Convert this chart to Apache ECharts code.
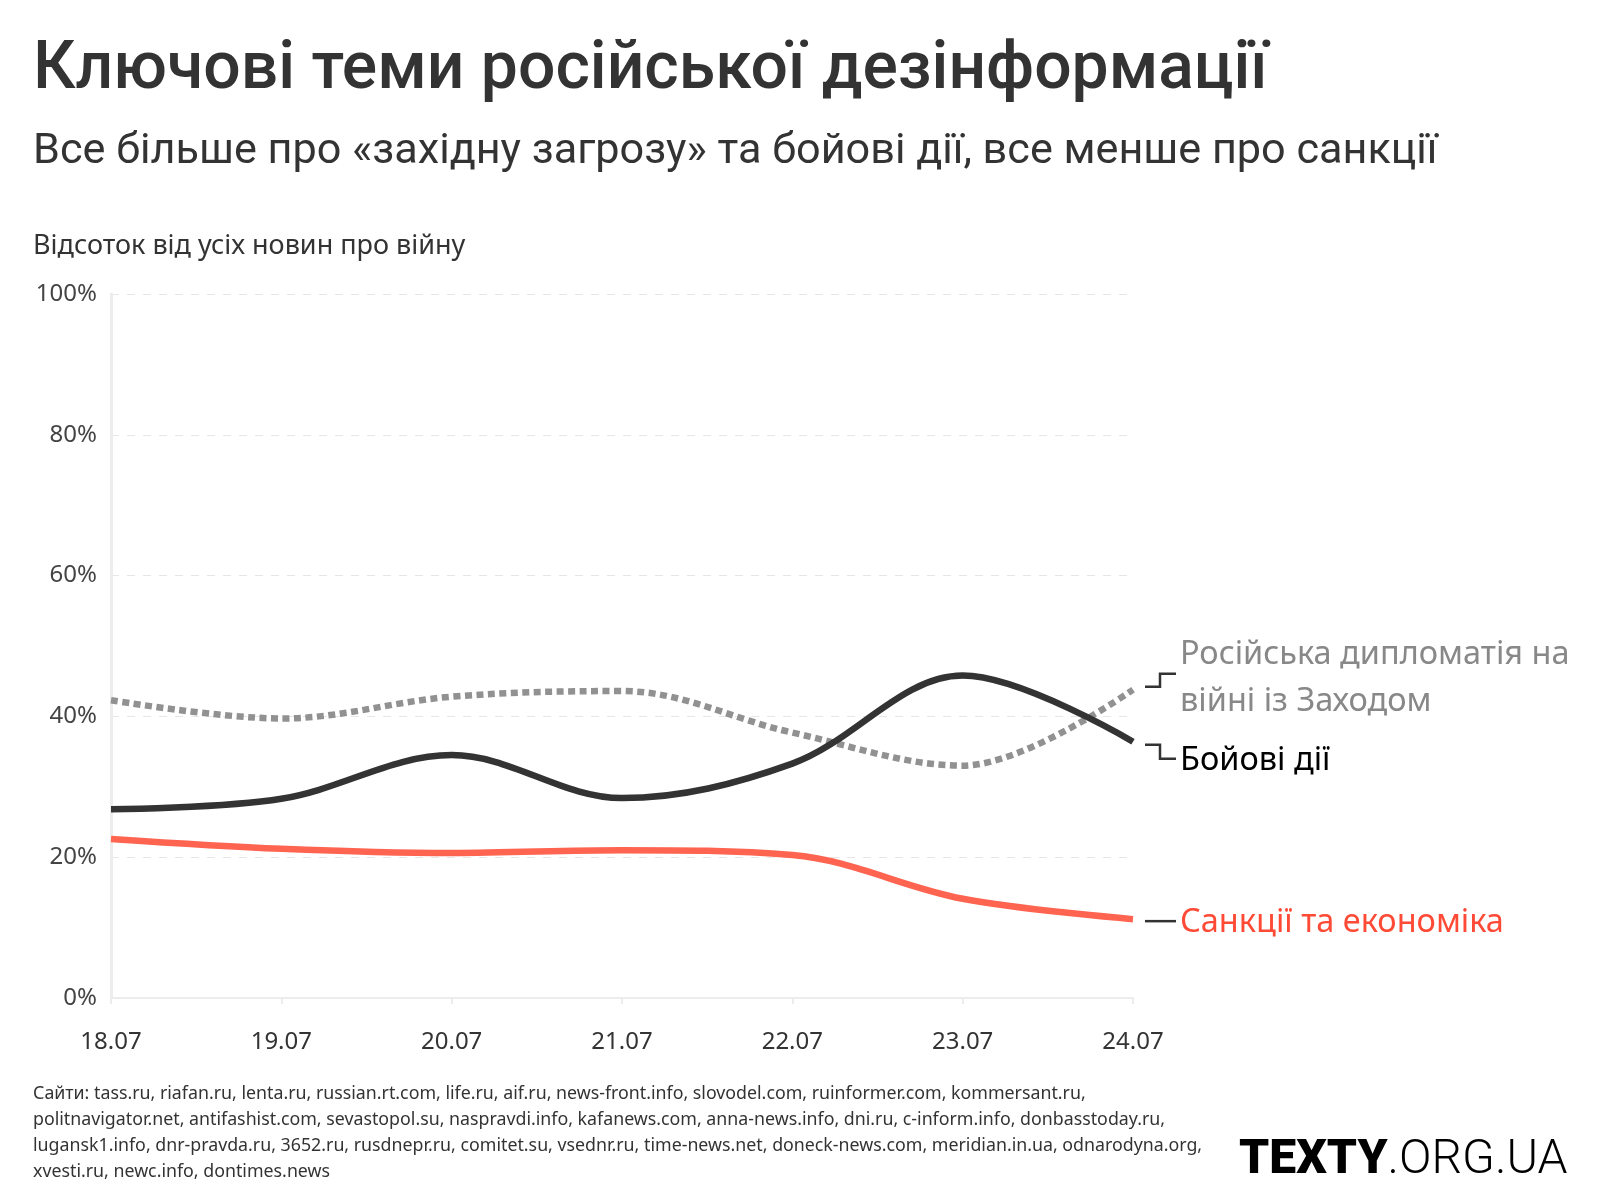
<!DOCTYPE html>
<html><head><meta charset="utf-8">
<script src="https://cdn.jsdelivr.net/npm/echarts@6/dist/echarts.min.js"></script>
<style>html,body{margin:0;padding:0;background:#fff}#c{width:1600px;height:1200px}</style>
</head><body><div id="c"></div>
<script>
const categories = ['18.07','19.07','20.07','21.07','22.07','23.07','24.07'];
const diplomacy = [42.3, 39.7, 42.8, 43.6, 37.7, 33.0, 43.8];
const combat = [26.8, 28.3, 34.5, 28.4, 33.3, 45.8, 36.4];
const sanctions = [22.6, 21.2, 20.6, 21.0, 20.3, 14.1, 11.2];
const yTicks = [0, 20, 40, 60, 80, 100];
const seriesNames = ['Російська дипломатія на\nвійні із Заходом', 'Бойові дії', 'Санкції та економіка'];
const footerLines = [
 'Сайти: tass.ru, riafan.ru, lenta.ru, russian.rt.com, life.ru, aif.ru, news-front.info, slovodel.com, ruinformer.com, kommersant.ru,',
 'politnavigator.net, antifashist.com, sevastopol.su, naspravdi.info, kafanews.com, anna-news.info, dni.ru, c-inform.info, donbasstoday.ru,',
 'lugansk1.info, dnr-pravda.ru, 3652.ru, rusdnepr.ru, comitet.su, vsednr.ru, time-news.net, doneck-news.com, meridian.in.ua, odnarodyna.org,',
 'xvesti.ru, newc.info, dontimes.news'
];

const chart = echarts.init(document.getElementById('c'));
const F = '"Noto Sans", sans-serif';
const SM = 0.35;
const option = {
  backgroundColor: '#fff',
  animation: false,
  grid: {left: 111, right: 467, top: 294, bottom: 202},
  xAxis: {
    type: 'category', data: categories, boundaryGap: false,
    axisLine: {lineStyle: {color: '#ececec', width: 2}},
    axisTick: {show: true, length: 6, lineStyle: {color: '#ececec', width: 2}},
    axisLabel: {color: '#333', fontSize: 24, fontFamily: F, margin: 32}
  },
  yAxis: {
    type: 'value', min: yTicks[0], max: yTicks[yTicks.length - 1], interval: 20,
    axisLine: {show: true, lineStyle: {color: '#ececec', width: 3}},
    axisTick: {show: false},
    axisLabel: {color: '#444', fontSize: 24, fontFamily: F, margin: 14, formatter: v => v + '%'},
    splitLine: {lineStyle: {color: '#e6e6e6', type: [8, 8], width: 1}}
  },
  series: [
    {name: 'dipl', type: 'line', data: diplomacy, smooth: SM, symbol: 'none',
     lineStyle: {color: '#919191', width: 6.5, type: [7, 4.5]}, z: 2},
    {name: 'combat', type: 'line', data: combat, smooth: SM, symbol: 'none',
     lineStyle: {color: '#333333', width: 6.5}, z: 3},
    {name: 'sanc', type: 'line', data: sanctions, smooth: SM, symbol: 'none',
     lineStyle: {color: '#ff6450', width: 6.5}, z: 3}
  ]
};
chart.setOption(option);

const last = categories.length - 1;
const pD = chart.convertToPixel({seriesIndex: 0}, [last, diplomacy[last]]);
const pC = chart.convertToPixel({seriesIndex: 1}, [last, combat[last]]);
const pS = chart.convertToPixel({seriesIndex: 2}, [last, sanctions[last]]);
const x0 = pD[0] + 12, xm = x0 + 15, x1 = x0 + 31, tx = x0 + 35;
const dY0 = pD[1] - 3, dY1 = dY0 - 13;
const cY0 = pC[1] + 3, cY1 = cY0 + 14;
const sY = pS[1] + 2;
const connStyle = {stroke: '#333', lineWidth: 2.5, fill: null};

const graphics = [
  {type: 'text', x: 33, y: 71, style: {text: 'Ключові теми російської дезінформації', font: '500 66px Roboto, sans-serif', fill: '#333', verticalAlign: 'middle'}},
  {type: 'text', x: 33, y: 152, style: {text: 'Все більше про «західну загрозу» та бойові дії, все менше про санкції', font: '400 43.2px Roboto, sans-serif', fill: '#333', verticalAlign: 'middle'}},
  {type: 'text', x: 33, y: 246, style: {text: 'Відсоток від усіх новин про війну', font: '400 27px ' + F, fill: '#333', verticalAlign: 'middle'}},
  {type: 'polyline', shape: {points: [[x0, dY0], [xm, dY0], [xm, dY1], [x1, dY1]]}, style: connStyle},
  {type: 'polyline', shape: {points: [[x0, cY0], [xm, cY0], [xm, cY1], [x1, cY1]]}, style: connStyle},
  {type: 'polyline', shape: {points: [[x0, sY], [x1, sY]]}, style: connStyle},
  {type: 'text', x: tx, y: dY1 + 5, style: {text: seriesNames[0], font: '400 32.5px ' + F, fill: '#888', verticalAlign: 'middle', lineHeight: 47}},
  {type: 'text', x: tx, y: cY1 + 2, style: {text: seriesNames[1], font: '400 32.5px ' + F, fill: '#000', verticalAlign: 'middle'}},
  {type: 'text', x: tx, y: sY + 2, style: {text: seriesNames[2], font: '400 32.5px ' + F, fill: '#ff4a36', verticalAlign: 'middle'}}
];
footerLines.forEach((t, i) => {
  graphics.push({type: 'text', x: 33, y: 1094 + i * 26, style: {text: t, font: '400 17.8px ' + F, fill: '#333', verticalAlign: 'middle'}});
});
graphics.push({type: 'text', x: 1239, y: 1161, style: {
  text: '{b|TEXTY}{r|.ORG.UA}', verticalAlign: 'middle', fill: '#000',
  rich: {b: {font: '900 48px Roboto, sans-serif', fill: '#000'}, r: {font: '300 48px Roboto, sans-serif', fill: '#000'}}
}});
chart.setOption({graphic: graphics});
</script></body></html>
